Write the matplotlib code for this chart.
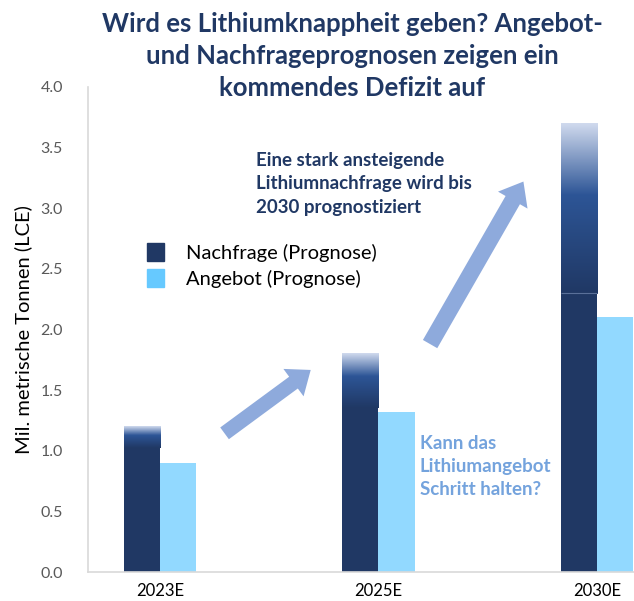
import numpy as np
import matplotlib
matplotlib.use("Agg")
import matplotlib.pyplot as plt
from matplotlib.patches import FancyArrowPatch, Patch
from matplotlib.colors import to_rgba

# ---- data ----
categories = ["2023E", "2025E", "2030E"]
demand = [1.2, 1.8, 3.7]          # Nachfrage (Prognose)
demand_solid = [1.03, 1.36, 2.3]  # where the gradient top begins
supply = [0.9, 1.32, 2.1]         # Angebot (Prognose)
yticks = [0.0, 0.5, 1.0, 1.5, 2.0, 2.5, 3.0, 3.5, 4.0]

title = "Wird es Lithiumknappheit geben? Angebot-\nund Nachfrageprognosen zeigen ein\nkommendes Defizit auf"
note_up = "Eine stark ansteigende\nLithiumnachfrage wird bis\n2030 prognostiziert"
note_q = "Kann das\nLithiumangebot\nSchritt halten?"

DARK = "#203864"
MID = "#2d5596"
LIGHT = "#d0daee"
SUPPLY = "#92d9ff"
SUPPLY_LEG = "#66c9ff"
ARROW = "#8eaadc"
FONT = ["Lato", "DejaVu Sans"]

plt.rcParams["font.family"] = FONT

fig = plt.figure(figsize=(6.34, 6.01), dpi=100)
ax = fig.add_axes([88 / 634, 1 - 572 / 601, 1 - 88 / 634, (572 - 87) / 601])

x = np.arange(len(categories))
w = 0.165

# supply bars
ax.bar(x + w / 2, supply, width=w, color=SUPPLY, zorder=2)
# demand bars (solid base, gradient drawn on top)
ax.bar(x - w / 2, demand_solid, width=w, color=DARK, zorder=2)

# gradient top of demand bars
def grad_col(n):
    t = np.linspace(0, 1, n)
    c0, c1, c2 = np.array(to_rgba(DARK)), np.array(to_rgba(MID)), np.array(to_rgba(LIGHT))
    out = np.zeros((n, 1, 4))
    for i, ti in enumerate(t):
        if ti < 0.58:
            f = ti / 0.58
            out[i, 0] = c0 * (1 - f) + c1 * f
        else:
            f = (ti - 0.58) / 0.42
            out[i, 0] = c1 * (1 - f) + c2 * f
    return out

for xi, s, d in zip(x, demand_solid, demand):
    ax.imshow(grad_col(200), extent=[xi - w, xi, s - 0.01, d], origin="lower",
              aspect="auto", interpolation="bilinear", zorder=3)
ax.hlines(demand_solid[2], x[2] - w, x[2], color="#5a7099", lw=0.8, zorder=4)

ax.set_xlim(-0.33, 2.17)
ax.set_ylim(0, 4.0)
ax.set_yticks(yticks)
ax.set_yticklabels([f"{v:.1f}" for v in yticks], color="#595959", fontsize=11.5)
ax.set_xticks(x)
ax.set_xticklabels(categories, fontsize=12, color="black")
ax.tick_params(length=0, pad=8)
ax.tick_params(axis="y", pad=18)
for s in ["top", "right"]:
    ax.spines[s].set_visible(False)
for s in ["left", "bottom"]:
    ax.spines[s].set_color("#d9d9d9")
    ax.spines[s].set_linewidth(1.2)
ax.set_ylabel("Mil. metrische Tonnen (LCE)", fontsize=14.5, color="black", labelpad=6)

# arrows
for (x0, y0), (x1, y1), tw in [((0.285, 1.13), (0.70, 1.68), 0.75), ((1.23, 1.86), (1.67, 3.24), 0.85)]:
    ax.add_patch(FancyArrowPatch((x0, y0), (x1, y1),
                 arrowstyle=f"simple,head_length=1.1,head_width=1.75,tail_width={tw}",
                 mutation_scale=14, color=ARROW, lw=0, zorder=3))

# notes
ax.text(0.44, 3.2, note_up, color=DARK, fontsize=13.5, fontweight="bold",
        va="center", ha="left", linespacing=1.45)
ax.text(1.19, 0.87, note_q, color="#74a3dd", fontsize=13.5, fontweight="bold",
        va="center", ha="left", linespacing=1.4)

# legend
handles = [Patch(color=DARK), Patch(color=SUPPLY_LEG)]
ax.legend(handles, ["Nachfrage (Prognose)", "Angebot (Prognose)"],
          loc="upper left", bbox_to_anchor=(0.075, 0.715), frameon=False,
          fontsize=14.5, handlelength=0.85, handleheight=1.0, handletextpad=1.1,
          labelspacing=0.35)

fig.text(352 / 634, 1 - 56 / 601, title, ha="center", va="center", fontsize=18.5,
         fontweight="bold", color=DARK, linespacing=1.42)

fig.savefig("out.png", dpi=100)
